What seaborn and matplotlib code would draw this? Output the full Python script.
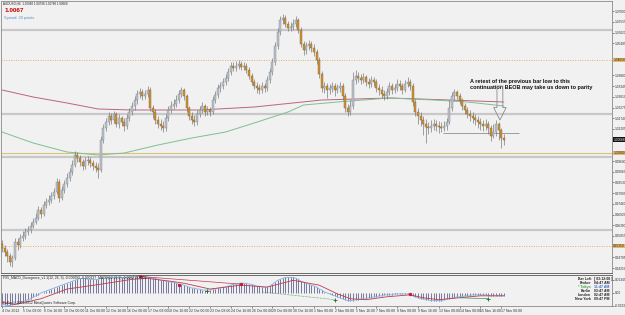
import numpy as np
import seaborn as sns
import matplotlib.pyplot as plt

# H4 candles (price), bar 0 = 4 Oct 2012 00:00
first_open = 0.9545
close = [
    0.9525, 0.9505, 0.9485, 0.9455, 0.9475, 0.9555, 0.9540, 0.9575, 0.9585, 0.9605,
    0.9615, 0.9635, 0.9655, 0.9675, 0.9715, 0.9695, 0.9740, 0.9755, 0.9765, 0.9785,
    0.9805, 0.9855, 0.9775, 0.9815, 0.9845, 0.9875, 0.9905, 0.9940, 0.9990, 0.9975,
    0.9955, 0.9935, 0.9960, 0.9965, 0.9950, 0.9935, 0.9925, 0.9915, 1.0065, 1.0125,
    1.0155, 1.0185, 1.0165, 1.0195, 1.0145, 1.0175, 1.0155, 1.0135, 1.0175, 1.0205,
    1.0235, 1.0265, 1.0295, 1.0305, 1.0285, 1.0295, 1.0315, 1.0225, 1.0205, 1.0165,
    1.0145, 1.0135, 1.0125, 1.0175, 1.0215, 1.0235, 1.0245, 1.0265, 1.0295, 1.0315,
    1.0285, 1.0225, 1.0185, 1.0165, 1.0155, 1.0195, 1.0215, 1.0235, 1.0205, 1.0215,
    1.0205, 1.0265, 1.0290, 1.0325, 1.0335, 1.0355, 1.0375, 1.0405, 1.0435, 1.0425,
    1.0435, 1.0445, 1.0430, 1.0435, 1.0415, 1.0385, 1.0355, 1.0335, 1.0325, 1.0315,
    1.0335, 1.0325, 1.0365, 1.0405, 1.0455, 1.0535, 1.0605, 1.0665, 1.0675, 1.0645,
    1.0625, 1.0630, 1.0645, 1.0665, 1.0615, 1.0545, 1.0515, 1.0535, 1.0545, 1.0525,
    1.0505, 1.0465, 1.0395, 1.0325, 1.0335, 1.0315, 1.0325, 1.0335, 1.0315, 1.0325,
    1.0335, 1.0285, 1.0225, 1.0205, 1.0235, 1.0365, 1.0385, 1.0375, 1.0365, 1.0380,
    1.0355, 1.0345, 1.0365, 1.0355, 1.0325, 1.0315, 1.0295, 1.0285, 1.0305, 1.0335,
    1.0315, 1.0325, 1.0345, 1.0335, 1.0315, 1.0345, 1.0355, 1.0335, 1.0255, 1.0205,
    1.0185, 1.0165, 1.0145, 1.0130, 1.0125, 1.0135, 1.0145, 1.0135, 1.0130, 1.0125,
    1.0135, 1.0155, 1.0225, 1.0285, 1.0305, 1.0285, 1.0265, 1.0235, 1.0215, 1.0195,
    1.0185, 1.0175, 1.0165, 1.0155, 1.0145, 1.0135, 1.0145, 1.0125, 1.0085, 1.0105,
    1.0145, 1.0115, 1.0075, 1.0067]
high = [
    0.9565, 0.9540, 0.9520, 0.9500, 0.9490, 0.9575, 0.9575, 0.9595, 0.9610, 0.9625,
    0.9635, 0.9655, 0.9675, 0.9700, 0.9735, 0.9730, 0.9760, 0.9775, 0.9790, 0.9805,
    0.9825, 0.9875, 0.9870, 0.9835, 0.9865, 0.9900, 0.9925, 0.9965, 1.0010, 1.0005,
    0.9990, 0.9970, 0.9980, 0.9985, 0.9980, 0.9965, 0.9955, 0.9950, 1.0085, 1.0145,
    1.0175, 1.0205, 1.0200, 1.0210, 1.0205, 1.0195, 1.0185, 1.0175, 1.0195, 1.0225,
    1.0255, 1.0285, 1.0315, 1.0325, 1.0320, 1.0315, 1.0335, 1.0330, 1.0240, 1.0220,
    1.0185, 1.0170, 1.0160, 1.0195, 1.0235, 1.0260, 1.0270, 1.0290, 1.0315, 1.0330,
    1.0325, 1.0295, 1.0235, 1.0205, 1.0190, 1.0215, 1.0235, 1.0255, 1.0245, 1.0235,
    1.0230, 1.0285, 1.0310, 1.0345, 1.0355, 1.0375, 1.0395, 1.0425, 1.0455, 1.0455,
    1.0460, 1.0465, 1.0460, 1.0455, 1.0450, 1.0430, 1.0400, 1.0370, 1.0355, 1.0345,
    1.0355, 1.0350, 1.0385, 1.0425, 1.0475, 1.0555, 1.0625, 1.0685, 1.0695, 1.0690,
    1.0660, 1.0655, 1.0670, 1.0685, 1.0675, 1.0630, 1.0560, 1.0555, 1.0565, 1.0560,
    1.0545, 1.0520, 1.0480, 1.0410, 1.0355, 1.0350, 1.0345, 1.0355, 1.0350, 1.0345,
    1.0355, 1.0350, 1.0300, 1.0245, 1.0265, 1.0405, 1.0415, 1.0405, 1.0395, 1.0400,
    1.0390, 1.0375, 1.0385, 1.0380, 1.0370, 1.0345, 1.0335, 1.0315, 1.0325, 1.0355,
    1.0350, 1.0345, 1.0370, 1.0365, 1.0350, 1.0365, 1.0380, 1.0370, 1.0350, 1.0270,
    1.0225, 1.0205, 1.0185, 1.0170, 1.0155, 1.0165, 1.0170, 1.0165, 1.0160, 1.0155,
    1.0160, 1.0175, 1.0265, 1.0305, 1.0320, 1.0315, 1.0300, 1.0275, 1.0250, 1.0230,
    1.0215, 1.0205, 1.0195, 1.0185, 1.0175, 1.0165, 1.0170, 1.0160, 1.0140, 1.0145,
    1.0165, 1.0155, 1.0125, 1.0095]
low = [
    0.9505, 0.9485, 0.9455, 0.9435, 0.9430, 0.9465, 0.9515, 0.9525, 0.9560, 0.9570,
    0.9590, 0.9600, 0.9625, 0.9645, 0.9665, 0.9675, 0.9685, 0.9725, 0.9740, 0.9750,
    0.9770, 0.9795, 0.9755, 0.9765, 0.9800, 0.9830, 0.9860, 0.9890, 0.9930, 0.9955,
    0.9935, 0.9915, 0.9920, 0.9940, 0.9930, 0.9915, 0.9905, 0.9875, 0.9905, 1.0050,
    1.0110, 1.0140, 1.0145, 1.0150, 1.0130, 1.0125, 1.0135, 1.0110, 1.0120, 1.0160,
    1.0190, 1.0215, 1.0245, 1.0275, 1.0265, 1.0270, 1.0280, 1.0210, 1.0175, 1.0145,
    1.0125, 1.0115, 1.0105, 1.0110, 1.0160, 1.0200, 1.0220, 1.0230, 1.0250, 1.0280,
    1.0265, 1.0205, 1.0165, 1.0145, 1.0135, 1.0140, 1.0180, 1.0200, 1.0185, 1.0190,
    1.0185, 1.0195, 1.0250, 1.0275, 1.0305, 1.0320, 1.0340, 1.0360, 1.0390, 1.0410,
    1.0410, 1.0420, 1.0415, 1.0415, 1.0400, 1.0370, 1.0340, 1.0320, 1.0300, 1.0295,
    1.0300, 1.0305, 1.0310, 1.0350, 1.0390, 1.0440, 1.0520, 1.0590, 1.0645, 1.0630,
    1.0610, 1.0610, 1.0615, 1.0630, 1.0600, 1.0530, 1.0490, 1.0495, 1.0515, 1.0505,
    1.0485, 1.0445, 1.0375, 1.0305, 1.0300, 1.0275, 1.0295, 1.0305, 1.0285, 1.0300,
    1.0305, 1.0265, 1.0205, 1.0185, 1.0190, 1.0220, 1.0345, 1.0355, 1.0345, 1.0350,
    1.0335, 1.0325, 1.0330, 1.0335, 1.0305, 1.0290, 1.0275, 1.0265, 1.0270, 1.0290,
    1.0295, 1.0300, 1.0310, 1.0315, 1.0295, 1.0305, 1.0330, 1.0315, 1.0235, 1.0185,
    1.0145, 1.0135, 1.0090, 1.0050, 1.0095, 1.0105, 1.0115, 1.0110, 1.0100, 1.0105,
    1.0110, 1.0115, 1.0145, 1.0210, 1.0265, 1.0270, 1.0245, 1.0215, 1.0195, 1.0175,
    1.0160, 1.0150, 1.0140, 1.0125, 1.0115, 1.0110, 1.0115, 1.0095, 1.0060, 1.0075,
    1.0085, 1.0065, 1.0025, 1.0040]

# moving averages, read at a few bars
red_ma_bar = [0, 12, 25, 37, 50, 76, 97, 123, 149, 172, 193]
red_ma = [1.0315, 1.0280, 1.0250, 1.0220, 1.0215, 1.0215, 1.0230, 1.0265, 1.0275, 1.0265, 1.0255]
green_ma_bar = [0, 12, 25, 37, 47, 60, 73, 86, 97, 110, 116, 129, 149, 166, 179, 193]
green_ma = [1.0105, 1.0050, 1.0005, 0.9990, 1.0000, 1.0040, 1.0075, 1.0105, 1.0150, 1.0205,
            1.0240, 1.0255, 1.0275, 1.0265, 1.0255, 1.0235]

# MACD histogram (one value per bar) and signal line
macd_hist = [
    -0.012, -0.012, -0.013, -0.013, -0.012, -0.011, -0.011, -0.010,
    -0.009, -0.008, -0.007, -0.006, -0.004, -0.003, -0.002, 0.000,
    0.001, 0.002, 0.003, 0.004, 0.005, 0.006, 0.007, 0.008, 0.009, 0.010,
    0.011, 0.012, 0.013, 0.014, 0.015, 0.015, 0.015, 0.014, 0.014, 0.014, 0.014, 0.014,
    0.015, 0.015, 0.016, 0.016, 0.016, 0.016, 0.016, 0.016, 0.016, 0.016,
    0.016, 0.016, 0.016, 0.017, 0.017, 0.017, 0.017, 0.016, 0.016,
    0.016, 0.015, 0.015, 0.014, 0.013, 0.013, 0.012, 0.012, 0.011, 0.011, 0.010, 0.009, 0.009, 0.008,
    0.007, 0.006, 0.005, 0.005, 0.004, 0.004, 0.003, 0.003, 0.003,
    0.003, 0.004, 0.004, 0.005, 0.005, 0.006, 0.006,
    0.007, 0.008, 0.009, 0.009, 0.010, 0.010, 0.010,
    0.010, 0.009, 0.009, 0.008, 0.007, 0.007, 0.006, 0.006, 0.006,
    0.007, 0.009, 0.011, 0.013, 0.014, 0.015, 0.016, 0.016,
    0.016, 0.016, 0.015, 0.014, 0.012,
    0.011, 0.010, 0.009, 0.008, 0.007, 0.006, 0.004,
    0.003, 0.001, 0.000, -0.001, -0.002, -0.003, -0.004,
    -0.005, -0.006, -0.007, -0.008, -0.008,
    -0.008, -0.007, -0.007, -0.006, -0.006, -0.006,
    -0.005, -0.005, -0.004, -0.004, -0.003, -0.003, -0.002, -0.002,
    -0.002, -0.002, -0.001, -0.001, -0.001, -0.001, -0.001, -0.001,
    -0.002, -0.003, -0.004, -0.005, -0.006, -0.006,
    -0.007, -0.007, -0.008, -0.008, -0.008, -0.008,
    -0.008, -0.007, -0.006, -0.006, -0.005, -0.005, -0.004, -0.004,
    -0.004, -0.003, -0.003, -0.003, -0.002, -0.002, -0.002, -0.002,
    -0.002, -0.002, -0.003, -0.003, -0.003, -0.003, -0.003, -0.003, -0.003]
signal_bar = [0, 5, 15, 25, 38, 50, 56, 65, 70, 80, 92, 102, 112, 122, 129, 134,
              140, 148, 157, 162, 168, 176, 184, 193]
signal = [-0.010, -0.012, -0.006, 0.004, 0.009, 0.014, 0.015, 0.012, 0.010, 0.004,
          0.008, 0.006, 0.013, 0.008, -0.001, -0.006, -0.007, -0.004, -0.002, -0.005,
          -0.007, -0.005, -0.003, -0.003]
peak_bar = [53, 68, 92, 157]
peak_val = [0.017, 0.008, 0.009, -0.001]
trough_bar = [79, 128, 187]
trough_val = [0.002, -0.007, -0.006]

date_labels = ["4 Oct 2012", "5 Oct 08:00", "8 Oct 16:00", "10 Oct 00:00", "11 Oct 08:00",
               "12 Oct 16:00", "16 Oct 00:00", "17 Oct 08:00", "18 Oct 16:00", "22 Oct 00:00",
               "23 Oct 08:00", "24 Oct 16:00", "26 Oct 00:00", "29 Oct 08:00", "30 Oct 16:00",
               "1 Nov 00:00", "2 Nov 08:00", "5 Nov 16:00", "7 Nov 00:00", "8 Nov 08:00",
               "9 Nov 16:00", "13 Nov 00:00", "14 Nov 08:00", "15 Nov 16:00", "17 Nov 00:00"]

grey_levels = [1.0615, 1.0195, 0.9980, 0.9615]
dotted_levels = [1.0465, 0.9535]
parity = 1.0000
retest_low = 1.0100
last_price = 1.0067

BG = "#f1f1f1"
sns.set_theme(style="white", rc={"axes.facecolor": BG, "figure.facecolor": BG})
plt.rcParams["font.family"] = ["Liberation Sans", "DejaVu Sans"]
NARROW = ["Liberation Sans Narrow", "Liberation Sans", "DejaVu Sans"]

W, H = 625, 315
fig = plt.figure(figsize=(W / 100, H / 100), dpi=100)


def px_axes(x0, y0, x1, y1):
    return fig.add_axes([x0 / W, 1 - y1 / H, (x1 - x0) / W, (y1 - y0) / H])


ax = px_axes(1, 1, 612, 273)
mx = px_axes(1, 274.5, 612, 306)
xlim = (-1 / 2.6, 610 / 2.6)

# ---- price panel ----
c = np.array(close)
o = np.r_[first_open, c[:-1]]   # forex bars open at the previous close
hi = np.array(high)
lo = np.array(low)
bars = np.arange(len(c))
up = c >= o
body_lo = np.minimum(o, c)
body_h = np.maximum(np.abs(c - o), 0.00025)

for lv in grey_levels:
    ax.axhline(lv, color="#c8c8c8", lw=1.6, zorder=1)
for lv in dotted_levels:
    ax.axhline(lv, color="#e0b064", lw=0.7, ls=(0, (1, 1.5)), zorder=1)
ax.axhline(parity, color="#dcc17a", lw=0.8, zorder=1)
ax.hlines(retest_low, 169.5, 199, color="#9c9c9c", lw=0.7, zorder=2)

sns.lineplot(x=red_ma_bar, y=red_ma, ax=ax, color="#b8667a", lw=0.7, zorder=2)
sns.lineplot(x=green_ma_bar, y=green_ma, ax=ax, color="#7fbf94", lw=0.7, zorder=2)

ax.vlines(bars, lo, hi, color="#6f6f6f", lw=0.45, zorder=3)
ax.bar(bars[up], body_h[up], bottom=body_lo[up], width=0.72, color="#bcc2c9",
       edgecolor="#7d858d", linewidth=0.3, zorder=4)
ax.bar(bars[~up], body_h[~up], bottom=body_lo[~up], width=0.72, color="#c9923f",
       edgecolor="#8e6425", linewidth=0.3, zorder=4)

ax.text(180, 1.0342, "A retest of the previous bar low to this\ncontinuation BEOB may take us down to parity",
        fontsize=4, fontweight="bold", color="#111111", ha="left", va="center", linespacing=1.05, zorder=6)
ax.annotate("", xy=(191.5, 1.0165), xytext=(191.5, 1.0335),
            arrowprops=dict(arrowstyle="simple,head_width=0.9,head_length=0.9,tail_width=0.42",
                            fc="none", ec="#8a8a8a", lw=0.6, mutation_scale=10, shrinkA=0, shrinkB=0),
            zorder=6)

ax.set_xlim(*xlim)
ax.set_ylim(0.9400, 1.0760)
ax.set_xticks([])
ax.yaxis.tick_right()
marked = dotted_levels + [parity, last_price]
yt = [v for v in np.arange(0.9425, 1.0760, 0.00535) if min(abs(v - m) for m in marked) > 0.0035]
ax.set_yticks(yt)
ax.set_yticklabels([f"{v:.5f}" for v in yt], family=NARROW)
ax.tick_params(axis="y", labelsize=2.3, pad=0.6, length=1.3, width=0.4, colors="#333333", right=True)
ax.set_xlabel("")
ax.set_ylabel("")
for s in ax.spines.values():
    s.set_color("#8a8a8a")
    s.set_linewidth(0.6)
ax.spines["bottom"].set_color("#555555")

tr = ax.get_yaxis_transform()
box_pad = "square,pad=0.12"
ax.text(1.002, last_price, "1.00668", transform=tr, fontsize=2.3, family=NARROW, color="white",
        va="center", bbox=dict(boxstyle=box_pad, fc="#111111", ec="none"), clip_on=False, zorder=7)
for lv in dotted_levels + [parity]:
    ax.text(1.002, lv, f"{lv:.5f}", transform=tr, fontsize=2.3, family=NARROW, color="#222222",
            va="center", bbox=dict(boxstyle=box_pad, fc="#e6b867", ec="none"), clip_on=False, zorder=7)

fig.text(3 / W, 1 - 3.5 / H, "AUDUSD,H4  1.00948 1.00798 1.00788 1.00668", fontsize=2.2,
         color="#222222", va="center")
fig.text(4.5 / W, 1 - 11 / H, "1.0067", fontsize=4.6, fontweight="bold", color="#c00000", va="center")
fig.text(4 / W, 1 - 18 / H, "Spread: 20 points.", fontsize=2.8, color="#5b8ec0", va="center")

# ---- MACD panel ----
mh = np.array(macd_hist)
mx.vlines(bars, 0, mh, color="#34346e", lw=0.45, zorder=2)
sns.lineplot(x=bars, y=mh, ax=mx, color="#7fb3e6", lw=0.6, zorder=3)
sns.lineplot(x=signal_bar, y=signal, ax=mx, color="#c23a4a", lw=0.6, zorder=3)
mx.plot([53, 92], [0.017, 0.009], color="#c23a4a", lw=0.5, zorder=3)
mx.plot([100, 128], [0.001, -0.007], color="#3a9a4a", lw=0.5, ls=(0, (1, 1)), zorder=3)
mx.plot([176, 187], [-0.005, -0.006], color="#3a9a4a", lw=0.5, zorder=3)
mx.plot(peak_bar, peak_val, ls="none", marker="s", ms=1.3, color="#c0203a", zorder=4)
mx.plot(trough_bar, trough_val, ls="none", marker="+", ms=2.2, mew=0.6, color="#1f6a2a", zorder=4)

mx.set_xlim(*xlim)
mx.set_ylim(-0.0135, 0.019)
mx.yaxis.tick_right()
mx.set_yticks([0.0135, 0.0, -0.0130])
mx.set_yticklabels(["0.01345", "0.00", "-0.0133"], family=NARROW)
mx.set_xticks(bars[::8])
mx.set_xticklabels(date_labels, ha="left")
mx.tick_params(axis="y", labelsize=2.3, pad=0.6, length=1.3, width=0.4, colors="#333333", right=True)
mx.tick_params(axis="x", labelsize=2.5, pad=0.8, length=1.5, width=0.4, colors="#333333", bottom=True)
mx.set_xlabel("")
mx.set_ylabel("")
for s in mx.spines.values():
    s.set_color("#8a8a8a")
    s.set_linewidth(0.6)
mx.spines["top"].set_color("#555555")

fig.text(3 / W, 1 - 277.5 / H,
         "FX5_MACD_Divergence_v1.1(12, 26, 9) -0.000092 -0.000237  MACD(12,26,9) -0.0003 -0.0002",
         fontsize=2.4, color="#222222", va="center")
fig.text(3 / W, 1 - 303 / H, "FxPro © 2001-2012 MetaQuotes Software Corp.", fontsize=2.4,
         color="#222222", va="center")

clock_names = ["Bar Left", "Broker", "* Tokyo", "Berlin", "London", "New York"]
clock_times = ["[ 03:12:08 ]", "04:47 AM", "11:47 AM", "03:47 AM", "02:47 AM", "09:47 PM"]
for k, (nm, tm) in enumerate(zip(clock_names, clock_times)):
    yy = 1 - (279.3 + 3.9 * k) / H
    fig.text(591 / W, yy, nm, fontsize=2.5, fontweight="bold", ha="right", va="center",
             color="#3aa03a" if k == 2 else "#222222")
    fig.text(593.5 / W, yy, tm, fontsize=2.5, fontweight="bold", ha="left", va="center",
             color="#3a6ac8" if k == 2 else "#222222")

fig.savefig("out.png", dpi=100, facecolor=BG)
